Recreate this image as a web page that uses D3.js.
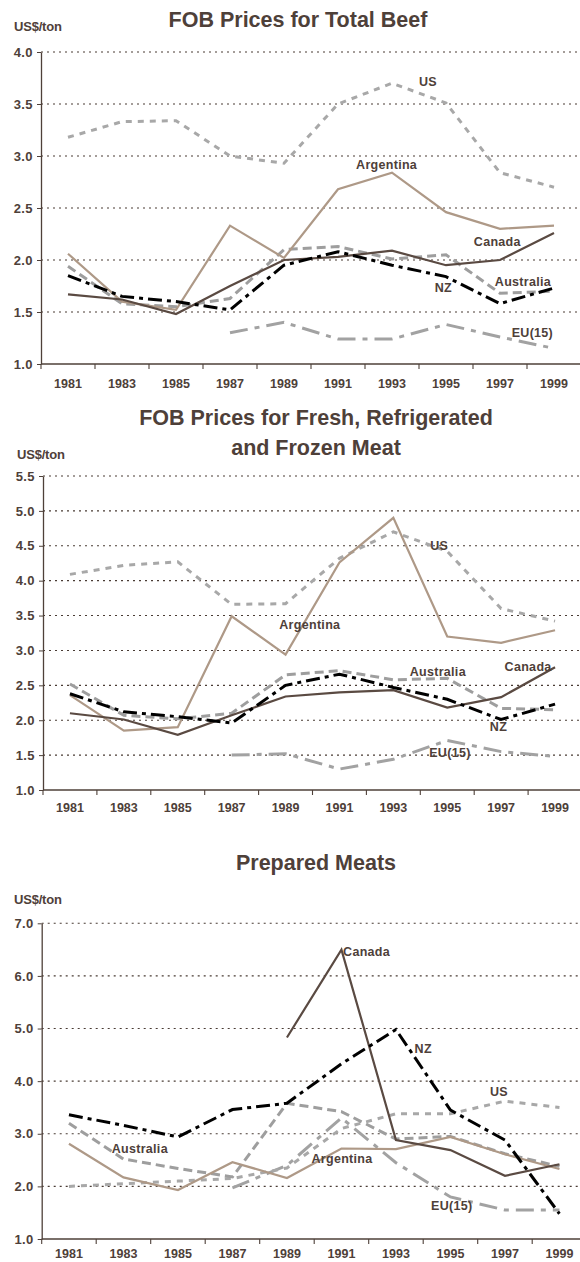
<!DOCTYPE html>
<html>
<head>
<meta charset="utf-8">
<script src="https://cdn.jsdelivr.net/npm/d3@7/dist/d3.min.js"></script>
<style>
  html, body { margin: 0; padding: 0; background: #fff; }
  svg { display: block; font-family: "Liberation Sans", Arial, sans-serif; }
</style>
</head>
<body>
<svg id="chart" width="580" height="1262"></svg>
<script>
// ---------------- DATA ----------------
const years = [1981, 1983, 1985, 1987, 1989, 1991, 1993, 1995, 1997, 1999];
const yearLabels = ["1981", "1983", "1985", "1987", "1989", "1991", "1993", "1995", "1997", "1999"];

// Panel 1: FOB Prices for Total Beef
const beefTicks = [1.0, 1.5, 2.0, 2.5, 3.0, 3.5, 4.0];
const beefUS        = [3.18, 3.33, 3.34, 3.00, 2.93, 3.50, 3.70, 3.51, 2.84, 2.70];
const beefArgentina = [2.06, 1.60, 1.52, 2.33, 2.02, 2.68, 2.84, 2.46, 2.30, 2.33];
const beefCanada    = [1.67, 1.62, 1.48, 1.75, 2.00, 2.03, 2.09, 1.95, 2.00, 2.26];
const beefNZ        = [1.85, 1.65, 1.60, 1.52, 1.95, 2.08, 1.95, 1.84, 1.58, 1.73];
const beefAustralia = [1.94, 1.58, 1.55, 1.63, 2.10, 2.13, 2.01, 2.05, 1.68, 1.70];
const beefEU        = [null, null, null, 1.30, 1.40, 1.24, 1.24, 1.38, 1.26, 1.15];

// Panel 2: FOB Prices for Fresh, Refrigerated and Frozen Meat
const freshTicks = [1.0, 1.5, 2.0, 2.5, 3.0, 3.5, 4.0, 4.5, 5.0, 5.5];
const freshUS        = [4.09, 4.22, 4.27, 3.66, 3.67, 4.32, 4.70, 4.42, 3.60, 3.42];
const freshArgentina = [2.36, 1.85, 1.90, 3.49, 2.94, 4.26, 4.90, 3.20, 3.11, 3.29];
const freshCanada    = [2.10, 2.01, 1.79, 2.07, 2.34, 2.40, 2.43, 2.18, 2.33, 2.76];
const freshNZ        = [2.38, 2.12, 2.05, 1.96, 2.50, 2.66, 2.47, 2.30, 2.01, 2.23];
const freshAustralia = [2.52, 2.07, 2.02, 2.10, 2.65, 2.71, 2.58, 2.60, 2.17, 2.15];
const freshEU        = [null, null, null, 1.50, 1.52, 1.30, 1.44, 1.71, 1.55, 1.48];

// Panel 3: Prepared Meats
const prepTicks = [1.0, 2.0, 3.0, 4.0, 5.0, 6.0, 7.0];
const prepUS        = [2.00, 2.05, 2.10, 2.15, 2.35, 3.10, 3.38, 3.38, 3.62, 3.50];
const prepArgentina = [2.81, 2.17, 1.93, 2.46, 2.16, 2.72, 2.71, 2.94, 2.61, 2.33];
const prepCanada    = [null, null, null, null, 4.83, 6.50, 2.88, 2.69, 2.20, 2.42];
const prepNZ        = [3.36, 3.16, 2.94, 3.46, 3.58, 4.33, 4.98, 3.45, 2.88, 1.48];
const prepAustralia = [3.20, 2.52, 2.34, 2.18, 3.58, 3.42, 2.90, 2.95, 2.62, 2.38];
const prepEU        = [null, null, null, 1.97, 2.40, 3.30, 2.45, 1.80, 1.55, 1.55];

// Series label anchors (in data space: year position, value at text baseline)
const beefLabels  = [["US", 1994.33, 3.67], ["Argentina", 1992.8, 2.875], ["Canada", 1996.9, 2.135],
                     ["Australia", 1997.85, 1.75], ["NZ", 1994.9, 1.69], ["EU(15)", 1998.2, 1.26]];
const freshLabels = [["US", 1994.7, 4.44], ["Argentina", 1989.9, 3.31], ["Australia", 1994.65, 2.64],
                     ["Canada", 1998.0, 2.71], ["NZ", 1996.9, 1.85], ["EU(15)", 1995.1, 1.47]];
const prepLabels  = [["Canada", 1991.06, 6.38, "start"], ["NZ", 1994.0, 4.53], ["US", 1996.78, 3.72],
                     ["Australia", 1983.6, 2.64], ["Argentina", 1991.02, 2.44], ["EU(15)", 1995.05, 1.55]];

// ---------------- STYLES ----------------
const TEXT = "#4e4039";
const styles = {
  EU:        { color: "#a2a2a2", width: 3,   dash: "18,7,5,7" },
  US:        { color: "#a8a8a8", width: 3,   dash: "6,6" },
  Australia: { color: "#9e9e9e", width: 3,   dash: "9,5" },
  Argentina: { color: "#ae9987", width: 2.2, dash: null },
  Canada:    { color: "#5a4a42", width: 2.2, dash: null },
  NZ:        { color: "#000000", width: 3,   dash: "14,5,4,5" }
};

const svg = d3.select("#chart");

function drawPanel(cfg) {
  const g = svg.append("g");
  const x = d3.scaleBand().domain(years).range([cfg.x0, cfg.x1]).paddingInner(0).paddingOuter(0);
  const bw = x.bandwidth();
  const xc = d => x(d) + bw / 2;
  const xLin = d3.scaleLinear().domain([years[0], years[years.length - 1]])
                 .range([xc(years[0]), xc(years[years.length - 1])]);
  const y = d3.scaleLinear().domain(cfg.domain).range([cfg.yBot, cfg.yTop]);

  // title
  cfg.title.forEach((t, i) => {
    g.append("text").attr("x", cfg.titleX).attr("y", cfg.titleY + i * 30)
      .attr("text-anchor", "middle").attr("font-size", 21.5).attr("font-weight", "bold")
      .attr("fill", TEXT).text(t);
  });
  // unit label
  g.append("text").attr("x", cfg.unitX).attr("y", cfg.unitY)
    .attr("font-size", 13).attr("font-weight", "bold").attr("fill", TEXT)
    .attr("letter-spacing", "-0.2").text("US$/ton");

  // gridlines
  g.append("g").selectAll("line").data(cfg.ticks.filter(t => t !== cfg.domain[0])).join("line")
    .attr("x1", cfg.x0).attr("x2", 580)
    .attr("y1", d => y(d)).attr("y2", d => y(d))
    .attr("stroke", "#4a3c35").attr("stroke-width", 1.1).attr("stroke-dasharray", "2,4");

  // y axis
  const yAxis = d3.axisLeft(y).tickValues(cfg.ticks).tickFormat(d3.format(".1f"))
    .tickSizeInner(4).tickSizeOuter(0).tickPadding(4);
  const ya = g.append("g").attr("transform", `translate(${cfg.x0},0)`).call(yAxis);
  ya.select(".domain").attr("stroke", "#4e4039").attr("stroke-width", 1.3);
  ya.selectAll(".tick line").attr("stroke", "#4e4039");
  ya.selectAll(".tick text").attr("font-size", 13).attr("font-weight", "bold")
    .attr("fill", TEXT).attr("font-family", "Liberation Sans, Arial, sans-serif")
    .attr("letter-spacing", "0.4");

  // x axis line
  g.append("line").attr("x1", cfg.x0).attr("x2", 580).attr("y1", cfg.yBot).attr("y2", cfg.yBot)
    .attr("stroke", "#4e4039").attr("stroke-width", 1.3);
  // boundary ticks
  g.append("g").selectAll("line").data(years).join("line")
    .attr("x1", d => x(d)).attr("x2", d => x(d))
    .attr("y1", cfg.yBot).attr("y2", cfg.yBot + 5)
    .attr("stroke", "#4e4039").attr("stroke-width", 1.1);
  // x labels
  g.append("g").selectAll("text").data(years).join("text")
    .attr("x", d => xc(d)).attr("y", cfg.xLabelY)
    .attr("text-anchor", "middle").attr("font-size", 12.5).attr("font-weight", "bold")
    .attr("fill", TEXT).text((d, i) => yearLabels[i]);

  // series
  const order = ["EU", "US", "Australia", "Argentina", "Canada", "NZ"];
  const line = d3.line().defined(d => d.v != null).x(d => xc(d.year)).y(d => y(d.v));
  order.forEach(name => {
    const vals = cfg.series[name];
    const pts = years.map((yr, i) => ({ year: yr, v: vals[i] }));
    const st = styles[name];
    const p = g.append("path").datum(pts).attr("d", line)
      .attr("fill", "none").attr("stroke", st.color).attr("stroke-width", st.width)
      .attr("stroke-linejoin", "miter");
    if (st.dash) p.attr("stroke-dasharray", st.dash);
  });

  // series labels
  g.append("g").selectAll("text").data(cfg.labels).join("text")
    .attr("x", d => xLin(d[1])).attr("y", d => y(d[2]))
    .attr("text-anchor", d => d.length > 3 ? d[3] : "middle")
    .attr("font-size", 12.5).attr("font-weight", "bold").attr("fill", TEXT)
    .attr("letter-spacing", "0.3").text(d => d[0]);
}

drawPanel({
  title: ["FOB Prices for Total Beef"], titleX: 298, titleY: 27,
  unitX: 14, unitY: 31,
  x0: 41, x1: 581, yTop: 52, yBot: 364, domain: [1, 4], ticks: beefTicks,
  xLabelY: 388,
  series: { US: beefUS, Argentina: beefArgentina, Canada: beefCanada, NZ: beefNZ,
            Australia: beefAustralia, EU: beefEU },
  labels: beefLabels
});

drawPanel({
  title: ["FOB Prices for Fresh, Refrigerated", "and Frozen Meat"], titleX: 316, titleY: 425,
  unitX: 17, unitY: 459,
  x0: 43, x1: 582, yTop: 476, yBot: 790, domain: [1, 5.5], ticks: freshTicks,
  xLabelY: 812,
  series: { US: freshUS, Argentina: freshArgentina, Canada: freshCanada, NZ: freshNZ,
            Australia: freshAustralia, EU: freshEU },
  labels: freshLabels
});

drawPanel({
  title: ["Prepared Meats"], titleX: 316, titleY: 870,
  unitX: 14, unitY: 904,
  x0: 41.7, x1: 586.7, yTop: 923.3, yBot: 1239, domain: [1, 7], ticks: prepTicks,
  xLabelY: 1258,
  series: { US: prepUS, Argentina: prepArgentina, Canada: prepCanada, NZ: prepNZ,
            Australia: prepAustralia, EU: prepEU },
  labels: prepLabels
});
</script>
</body>
</html>
